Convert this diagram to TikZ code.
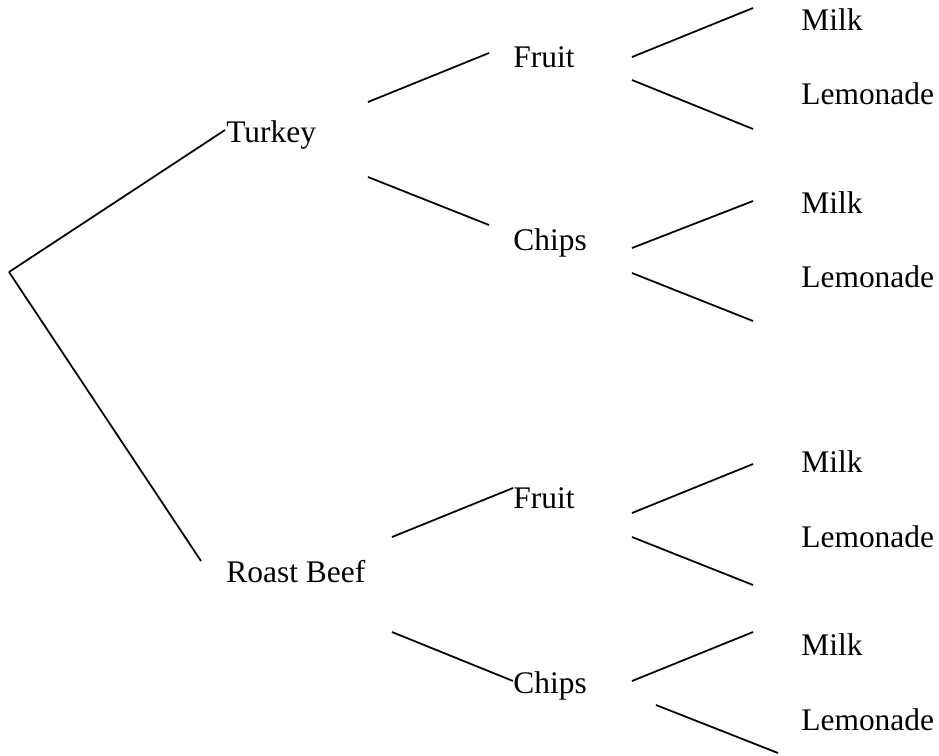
\documentclass[tikz,border=0pt]{standalone}
\usepackage{fontspec}
\setmainfont{Liberation Serif}
\usepackage{tikz}
\tikzset{>=latex}

\begin{document}
\begin{tikzpicture}[x=0.02cm, y=-0.02cm]
                % T = Turkey, R = Roast Beef, F = Fruit, C = Chips, M = Milk, L = Lemonade
                \tikzstyle{every node}=[anchor=base west, inner sep=0pt, font=\fontsize{17.9}{21}\selectfont]
                \tikzstyle{every edge}=[black, -, line width=1pt, draw]
                \useasboundingbox (0,0) rectangle (939,755);
                \coordinate (O) at (9, 272);
                % first level
                \node (T) at (226, 142) {Turkey};
                \node (R) at (226, 582) {Roast Beef};
                \coordinate (Tin) at (225, 130);
                \coordinate (Rin) at (201, 561);
                \draw (O) edge (Tin);
                \draw (O) edge (Rin);
                % second level
                \node (TF) at (513, 67) {Fruit};
                \node (TC) at (513, 250) {Chips};
                \node (RF) at (513, 508) {Fruit};
                \node (RC) at (513, 693) {Chips};
                \coordinate (TFout) at (368, 102); \coordinate (TFin) at (489, 53);
                \coordinate (TCout) at (368, 177); \coordinate (TCin) at (489, 225);
                \coordinate (RFout) at (392, 537); \coordinate (RFin) at (513, 488);
                \coordinate (RCout) at (392, 632); \coordinate (RCin) at (513, 681);
                \draw (TFout) edge (TFin);
                \draw (TCout) edge (TCin);
                \draw (RFout) edge (RFin);
                \draw (RCout) edge (RCin);
                % third level
                \node (TFM) at (801, 30) {Milk};
                \node (TFL) at (801, 104) {Lemonade};
                \node (TCM) at (801, 213) {Milk};
                \node (TCL) at (801, 287) {Lemonade};
                \node (RFM) at (801, 472) {Milk};
                \node (RFL) at (801, 547) {Lemonade};
                \node (RCM) at (801, 655) {Milk};
                \node (RCL) at (801, 730) {Lemonade};
                \coordinate (TFMout) at (632, 57);  \coordinate (TFMin) at (753, 8);
                \coordinate (TFLout) at (632, 80);  \coordinate (TFLin) at (753, 129);
                \coordinate (TCMout) at (632, 248); \coordinate (TCMin) at (753, 201);
                \coordinate (TCLout) at (632, 273); \coordinate (TCLin) at (753, 321);
                \coordinate (RFMout) at (632, 513); \coordinate (RFMin) at (753, 464);
                \coordinate (RFLout) at (632, 537); \coordinate (RFLin) at (753, 585);
                \coordinate (RCMout) at (632, 681); \coordinate (RCMin) at (753, 632);
                \coordinate (RCLout) at (656, 705); \coordinate (RCLin) at (778, 753);
                \draw (TFMout) edge (TFMin);
                \draw (TFLout) edge (TFLin);
                \draw (TCMout) edge (TCMin);
                \draw (TCLout) edge (TCLin);
                \draw (RFMout) edge (RFMin);
                \draw (RFLout) edge (RFLin);
                \draw (RCMout) edge (RCMin);
                \draw (RCLout) edge (RCLin);
\end{tikzpicture}
\end{document}
